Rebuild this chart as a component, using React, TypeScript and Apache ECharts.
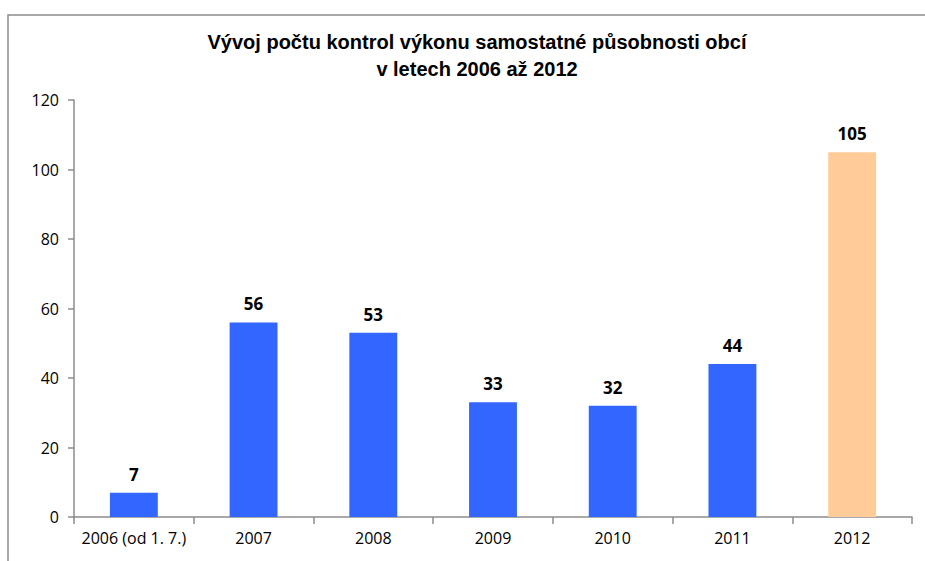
import React, { useEffect, useRef } from "react";
import * as echarts from "echarts";

const categories = ["2006 (od 1. 7.)", "2007", "2008", "2009", "2010", "2011", "2012"];
const values = [7, 56, 53, 33, 32, 44, 105];
const barColors = ["#3366FF", "#3366FF", "#3366FF", "#3366FF", "#3366FF", "#3366FF", "#FFCC99"];
const titleLines = ["Vývoj počtu kontrol výkonu samostatné působnosti obcí", "v letech 2006 až 2012"];

export default function App() {
  const ref = useRef<HTMLDivElement>(null);
  useEffect(() => {
    if (!ref.current) return;
    const chart = echarts.init(ref.current, null, { renderer: "svg" });
    const labelFont = "'Open Sans', 'DejaVu Sans', sans-serif";
    chart.setOption({
      animation: false,
      backgroundColor: "#ffffff",
      title: {
        text: titleLines.join("\n"),
        left: 472,
        textAlign: "center",
        top: 23,
        textStyle: {
          fontFamily: "'Liberation Sans', Arial, sans-serif",
          fontWeight: "bold",
          fontSize: 20,
          lineHeight: 27,
          color: "#000",
        },
      },
      graphic: [
        {
          type: "rect",
          shape: { x: 8, y: 15, width: 940, height: 600 },
          style: { fill: "none", stroke: "#8c8c8c", lineWidth: 1.5 },
          silent: true,
        },
      ],
      grid: { left: 74, right: 13, top: 100, bottom: 44, containLabel: false },
      xAxis: {
        type: "category",
        data: categories,
        axisLine: { lineStyle: { color: "#8c8c8c", width: 1.5 } },
        axisTick: { show: true, alignWithLabel: false, length: 7, lineStyle: { color: "#8c8c8c", width: 1.5 } },
        axisLabel: { fontFamily: labelFont, fontSize: 16, color: "#000", margin: 13, interval: 0 },
      },
      yAxis: {
        type: "value",
        min: 0,
        max: 120,
        interval: 20,
        splitLine: { show: false },
        axisLine: { show: true, lineStyle: { color: "#8c8c8c", width: 1.5 } },
        axisTick: { show: true, length: 6, lineStyle: { color: "#8c8c8c", width: 1.5 } },
        axisLabel: { fontFamily: labelFont, fontSize: 16, color: "#000", margin: 15 },
      },
      series: [
        {
          type: "bar",
          barWidth: "40%",
          data: values.map((v, i) => ({ value: v, itemStyle: { color: barColors[i] } })),
          label: {
            show: true,
            position: "top",
            distance: 10,
            fontFamily: labelFont,
            fontWeight: "bold",
            fontSize: 17,
            color: "#000",
          },
        },
      ],
    });
    return () => chart.dispose();
  }, []);
  return <div ref={ref} style={{ position: "fixed", left: 0, top: 0, width: 925, height: 561 }} />;
}
